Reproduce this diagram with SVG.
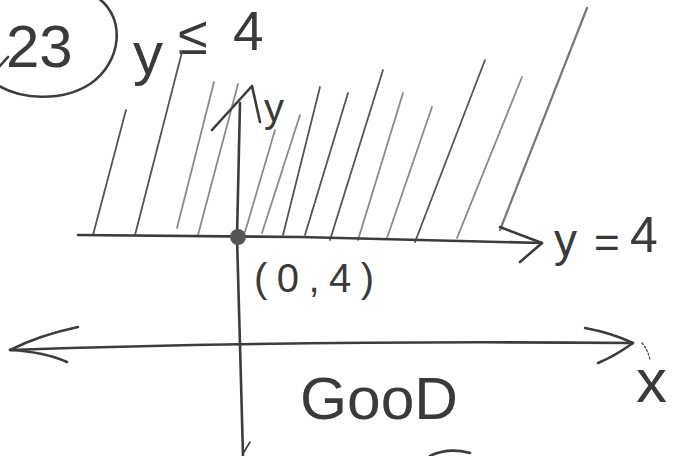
<svg xmlns="http://www.w3.org/2000/svg" width="682" height="456" viewBox="0 0 682 456">
<style>
.ink{fill:none;stroke:#3c3c3c;stroke-width:2.6;stroke-linecap:round;stroke-linejoin:round}
.hatch{fill:none;stroke:#8a8a8a;stroke-width:1.8;stroke-linecap:round}
.hatchd{fill:none;stroke:#555;stroke-width:1.8;stroke-linecap:round}
.txt{font-family:"Liberation Sans","DejaVu Sans",sans-serif;fill:#3a3a3a}
</style>
<rect width="682" height="456" fill="#ffffff"/>
<g id="problem-number">
<path class="ink" d="M98,-2 C126,18 122,62 90,84 C62,102 20,100 -4,84"/>
<path class="ink" d="M-1,67 L8,57"/>
<text class="txt" x="6" y="67" font-size="60">23</text>
</g>
<g id="inequality">
<text class="txt" font-size="56"><tspan x="133" y="74" font-size="60">y</tspan><tspan x="178" y="54" font-size="54">≤</tspan><tspan x="233" y="50" font-size="55">4</tspan></text>
</g>
<g id="hatching">
<path class="hatchd" d="M93,235 L126,110"/>
<path class="hatchd" d="M135,235 L182,52"/>
<path class="hatch" d="M177,228 L214,82"/>
<path class="hatch" d="M198,235 L238,84"/>
<path class="hatch" d="M245,232 L275,130"/>
<path class="hatch" d="M262,233 L300,115"/>
<path class="hatchd" d="M283,235 L320,87"/>
<path class="hatchd" d="M305,235 L348,93"/>
<path class="hatchd" d="M330,240 L383,70"/>
<path class="hatch" d="M358,240 L403,93"/>
<path class="hatch" d="M387,238 L432,107"/>
<path class="hatchd" d="M415,242 L485,60"/>
<path class="hatch" d="M457,238 L522,77"/>
<path class="hatch" d="M500,230 L587,8" style="stroke:#777;stroke-width:2.2"/>
</g>
<g id="connectors">
<path class="ink" d="M78,235 L300,237 L542,243"/>
<path class="ink" d="M500,227 L542,243 L520,262"/>
<path class="ink" d="M10,350 Q300,340 633,343"/>
<path class="ink" d="M78,327 Q40,335 10,350 Q45,352 67,362"/>
<path class="ink" d="M585,328 Q612,333 633,343 Q615,356 598,363"/>
<path class="ink" d="M240,103 L237,237 L240,345 L243,456"/>
<path class="ink" d="M212,130 L252,86 L260,122"/>
<path class="ink" d="M250,442 L244,452" style="stroke-width:1.6"/>
<path class="ink" d="M642,343 Q648,350 650,360" style="stroke-width:1.2;stroke-dasharray:2 2"/>
<path class="ink" d="M430,456 Q448,447 470,453"/>
</g>
<g id="point">
<circle cx="238" cy="237" r="8" fill="#555"/>
</g>
<g id="labels">
<text class="txt" x="264" y="122" font-size="40">y</text>
<text class="txt" font-size="46"><tspan x="554" y="256">y</tspan><tspan x="594" y="258" font-size="44">=</tspan><tspan x="630" y="252" font-size="50">4</tspan></text>
<text class="txt" x="254" y="292" font-size="40" textLength="120" lengthAdjust="spacing">(0,4)</text>
<text class="txt" x="300" y="419" font-size="60" textLength="158" lengthAdjust="spacingAndGlyphs">GooD</text>
<text class="txt" x="636" y="402" font-size="62">x</text>
</g>
</svg>
